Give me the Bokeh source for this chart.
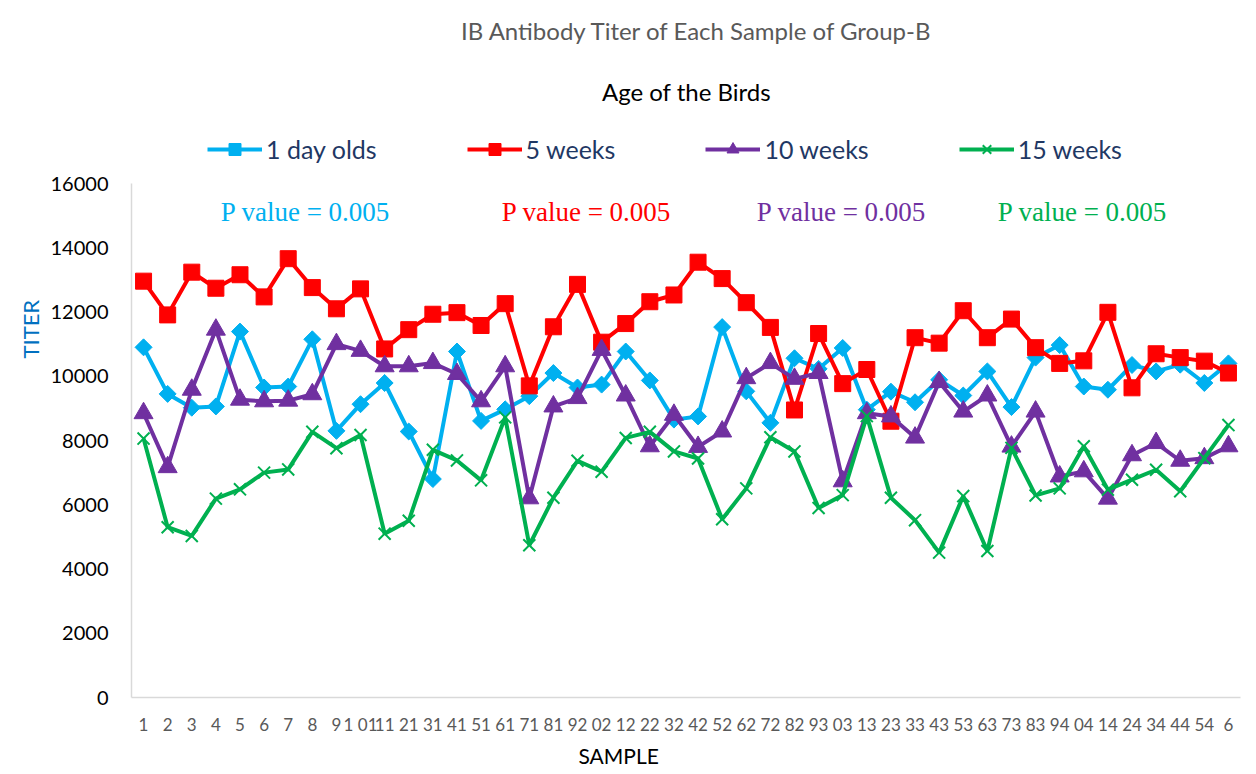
import numpy as np
from bokeh.plotting import figure
from bokeh.models import Range1d, Label, Legend, LegendItem, FixedTicker, ColumnDataSource, Title
from bokeh.embed import file_html
from bokeh.resources import INLINE

samples = list(range(1, 47))
tick_labels = ["1", "2", "3", "4", "5", "6", "7", "8", "9", "1 01", "11", "21", "31", "41",
               "51", "61", "71", "81", "92", "02", "12", "22", "32", "42", "52", "62", "72",
               "82", "93", "03", "13", "23", "33", "43", "53", "63", "73", "83", "94", "04",
               "14", "24", "34", "44", "54", "6"]

day1 = [10900, 9450, 9020, 9060, 11390, 9650, 9680, 11150, 8300, 9130, 9790, 8280, 6800, 10770,
        8610, 8970, 9380, 10100, 9650, 9740, 10770, 9870, 8650, 8750, 11530, 9530, 8550, 10560,
        10230, 10880, 8960, 9520, 9190, 9890, 9400, 10150, 9040, 10580, 10970, 9680, 9580, 10350,
        10150, 10360, 9790, 10400]
week5 = [12960, 11910, 13240, 12740, 13160, 12470, 13660, 12760, 12100, 12720, 10850, 11450,
         11930, 11980, 11580, 12260, 9700, 11540, 12860, 11060, 11640, 12320, 12530, 13550,
         13040, 12290, 11520, 8950, 11330, 9770, 10210, 8600, 11200, 11030, 12040, 11200, 11780,
         10890, 10400, 10480, 11990, 9640, 10700, 10580, 10470, 10100]
week10 = [8850, 7170, 9580, 11450, 9270, 9220, 9240, 9440, 11000, 10790, 10310, 10310, 10410,
          10070, 9220, 10310, 6200, 9060, 9320, 10820, 9400, 7820, 8800, 7800, 8280, 9940, 10410,
          9920, 10100, 6730, 8850, 8750, 8090, 9820, 8900, 9400, 7810, 8900, 6880, 7040, 6190,
          7540, 7920, 7370, 7450, 7820]
week15 = [8060, 5300, 5030, 6190, 6480, 7000, 7100, 8270, 7760, 8170, 5100, 5500, 7710, 7380,
          6760, 8720, 4740, 6220, 7370, 7030, 8080, 8270, 7660, 7440, 5550, 6510, 8100, 7660,
          5900, 6300, 8760, 6220, 5520, 4510, 6270, 4560, 7770, 6290, 6510, 7820, 6470, 6780,
          7090, 6420, 7450, 8480]

series_names = ["1 day olds", "5 weeks", "10 weeks", "15 weeks"]
colors = ["#00B0F0", "#FF0000", "#7030A0", "#00B050"]
p_texts = ["P value = 0.005", "P value = 0.005", "P value = 0.005", "P value = 0.005"]
y_max = 16000

FONT = "Lato"
FRAME_H = 697          # frame spans the full height above the x axis
DATA_H = 514           # pixel height of the 0..16000 part

p = figure(width=1256, height=774, output_backend="svg", toolbar_location=None,
           x_range=Range1d(0.5, 46.5), y_range=Range1d(0, y_max * FRAME_H / DATA_H),
           min_border_left=131, min_border_right=16, min_border_top=0, min_border_bottom=77)
p.title = None
p.outline_line_color = None
p.xgrid.visible = False
p.ygrid.visible = False
p.background_fill_color = "white"
p.border_fill_color = "white"

# axes
p.yaxis.ticker = FixedTicker(ticks=list(range(0, y_max + 1, 2000)))
p.yaxis.bounds = (0, y_max)
p.xaxis.ticker = FixedTicker(ticks=samples)
p.xaxis.major_label_overrides = {s: t for s, t in zip(samples, tick_labels)}
for ax in (p.xaxis[0], p.yaxis[0]):
    ax.axis_line_color = "#D9D9D9"
    ax.axis_line_width = 1.5
    ax.major_tick_line_color = None
    ax.minor_tick_line_color = None
    ax.major_tick_out = 0
    ax.major_tick_in = 0
    ax.major_label_text_font = FONT
p.yaxis.major_label_text_font_size = "20px"
p.yaxis.major_label_text_color = "#000000"
p.yaxis.major_label_standoff = 23
p.xaxis.major_label_text_font_size = "17px"
p.xaxis.major_label_text_color = "#595959"
p.xaxis.major_label_standoff = 16

src = ColumnDataSource(dict(x=samples, d1=day1, w5=week5, w10=week10, w15=week15))

r1l = p.line("x", "d1", source=src, line_color=colors[0], line_width=4)
r1m = p.scatter("x", "d1", source=src, marker="square", angle=np.pi / 4, size=12,
                fill_color=colors[0], line_color=colors[0])
r2l = p.line("x", "w5", source=src, line_color=colors[1], line_width=4)
r2m = p.scatter("x", "w5", source=src, marker="square", size=16,
                fill_color=colors[1], line_color=colors[1])
r3l = p.line("x", "w10", source=src, line_color=colors[2], line_width=4)
r3m = p.scatter("x", "w10", source=src, marker="triangle", size=19,
                fill_color=colors[2], line_color=colors[2])
r4l = p.line("x", "w15", source=src, line_color=colors[3], line_width=4)
r4m = p.scatter("x", "w15", source=src, marker="x", size=17,
                line_color=colors[3], line_width=2)

items = [LegendItem(label=series_names[0], renderers=[r1l, r1m]),
         LegendItem(label=series_names[1], renderers=[r2l, r2m]),
         LegendItem(label=series_names[2], renderers=[r3l, r3m]),
         LegendItem(label=series_names[3], renderers=[r4l, r4m])]
legend = Legend(items=items, orientation="horizontal", location=(76, 533),
                spacing=90, padding=0, margin=0, glyph_width=55, glyph_height=30,
                label_height=30, label_standoff=4, border_line_color=None,
                background_fill_alpha=0, label_text_font=FONT,
                label_text_font_size="25px", label_text_color="#1F3864")
p.add_layout(legend, "center")

# titles inside the (tall) frame, screen units from frame bottom-left
p.add_layout(Label(x=566, y=667, x_units="screen", y_units="screen",
                   text="IB Antibody Titer of Each Sample of Group-B", text_font=FONT,
                   text_font_size="24px", text_color="#595959",
                   text_align="center", text_baseline="middle"))
p.add_layout(Label(x=555, y=606, x_units="screen", y_units="screen",
                   text="Age of the Birds", text_font=FONT, text_font_size="24px",
                   text_color="#000000", text_align="center", text_baseline="middle"))

p.add_layout(Title(text="TITER", align="left", offset=339, text_font=FONT,
                   text_font_size="22px", text_font_style="normal", text_color="#0070C0",
                   standoff=8), "left")
p.add_layout(Title(text="SAMPLE", align="left", offset=447, text_font=FONT,
                   text_font_size="21px", text_font_style="normal", text_color="#000000",
                   standoff=7), "below")

p_x = [174, 455, 710, 951]
for px, txt, c in zip(p_x, p_texts, colors):
    p.add_layout(Label(x=px, y=486, x_units="screen", y_units="screen", text=txt,
                       text_font="Liberation Serif", text_font_size="27px", text_color=c,
                       text_align="center", text_baseline="middle"))

open("out.html", "w").write(file_html(p, INLINE))
